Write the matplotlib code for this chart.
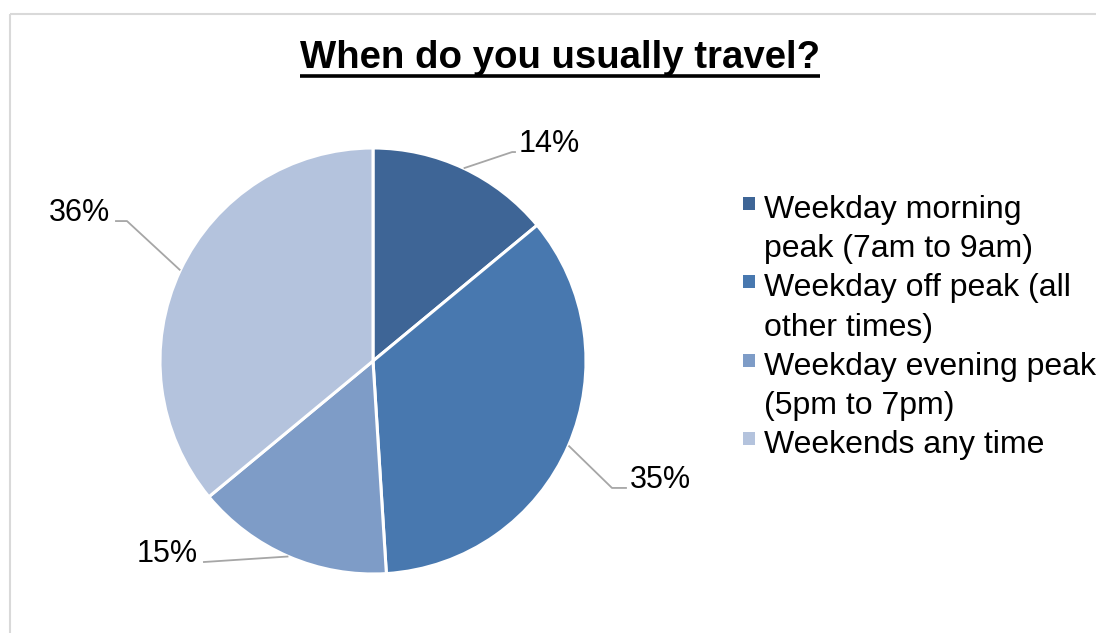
import numpy as np
import matplotlib
matplotlib.use("Agg")
import matplotlib.pyplot as plt
from matplotlib.patches import Rectangle

plt.rcParams['font.family'] = ['Liberation Sans', 'DejaVu Sans']

title = "When do you usually travel?"
categories = ["Weekday morning\npeak (7am to 9am)",
              "Weekday off peak (all\nother times)",
              "Weekday evening peak\n(5pm to 7pm)",
              "Weekends any time"]
shares = [14, 35, 15, 36]
colors = ['#3E6596', '#4878AF', '#7E9CC7', '#B4C3DD']

# leader line layout per slice: optional elbow, line end, text side
leaders = [
    {"elbow": (0.653, 0.981), "end": (0.671, 0.981), "ha": "left"},
    {"elbow": (1.122, -0.596), "end": (1.192, -0.596), "ha": "left"},
    {"elbow": None, "end": (-0.798, -0.944), "ha": "right"},
    {"elbow": (-1.155, 0.657), "end": (-1.211, 0.657), "ha": "right"},
]

W, H = 1096, 633
fig = plt.figure(figsize=(W / 100, H / 100), dpi=100)

# full-figure pixel overlay for frame, title and legend
bg = fig.add_axes([0, 0, 1, 1])
bg.set_xlim(0, W)
bg.set_ylim(H, 0)
bg.axis('off')
bg.add_patch(Rectangle((10, 14), W + 20, H + 20, fill=False,
                       edgecolor='#d9d9d9', linewidth=1.5))

# pie axes: centre (373, 361), radius 213 px
cx, cy, r = 373, 361, 213
ax = fig.add_axes([(cx - r) / W, (H - cy - r) / H, 2 * r / W, 2 * r / H])
wedges, _ = ax.pie(shares, colors=colors, startangle=90, counterclock=False,
                   radius=1, wedgeprops=dict(edgecolor='white', linewidth=2.2))
ax.set_xlim(-1, 1)
ax.set_ylim(-1, 1)
ax.set_aspect('equal')
ax.axis('off')

for w, val, lay in zip(wedges, shares, leaders):
    mid = np.deg2rad((w.theta1 + w.theta2) / 2)
    pts = [(np.cos(mid), np.sin(mid))]
    if lay["elbow"] is not None:
        pts.append(lay["elbow"])
    pts.append(lay["end"])
    xs, ys = zip(*pts)
    ax.plot(xs, ys, color='#a6a6a6', linewidth=1.3, clip_on=False,
            solid_capstyle='butt')
    ex, ey = lay["end"]
    dx = 0.012 if lay["ha"] == "left" else -0.025
    ax.text(ex + dx, ey, f"{val}%", ha=lay["ha"], va='baseline',
            fontsize=22, color='black', clip_on=False)

# title with underline
t = bg.text(560, 68, title, ha='center', va='baseline', fontsize=27.6,
            fontweight='bold', color='black')
fig.canvas.draw()
bb = t.get_window_extent(renderer=fig.canvas.get_renderer())
bg.plot([bb.x0, bb.x1], [76, 76], color='black', linewidth=2.6,
        solid_capstyle='butt')

# legend, drawn line by line
line_h = 39.2
base = 218
k = 0
for label, col in zip(categories, colors):
    bg.add_patch(Rectangle((743, base + k * line_h - 21), 12, 13,
                           facecolor=col, edgecolor='none'))
    for part in label.split("\n"):
        bg.text(764, base + k * line_h, part, ha='left', va='baseline',
                fontsize=23, color='black')
        k += 1

fig.savefig("out.png", dpi=100)
